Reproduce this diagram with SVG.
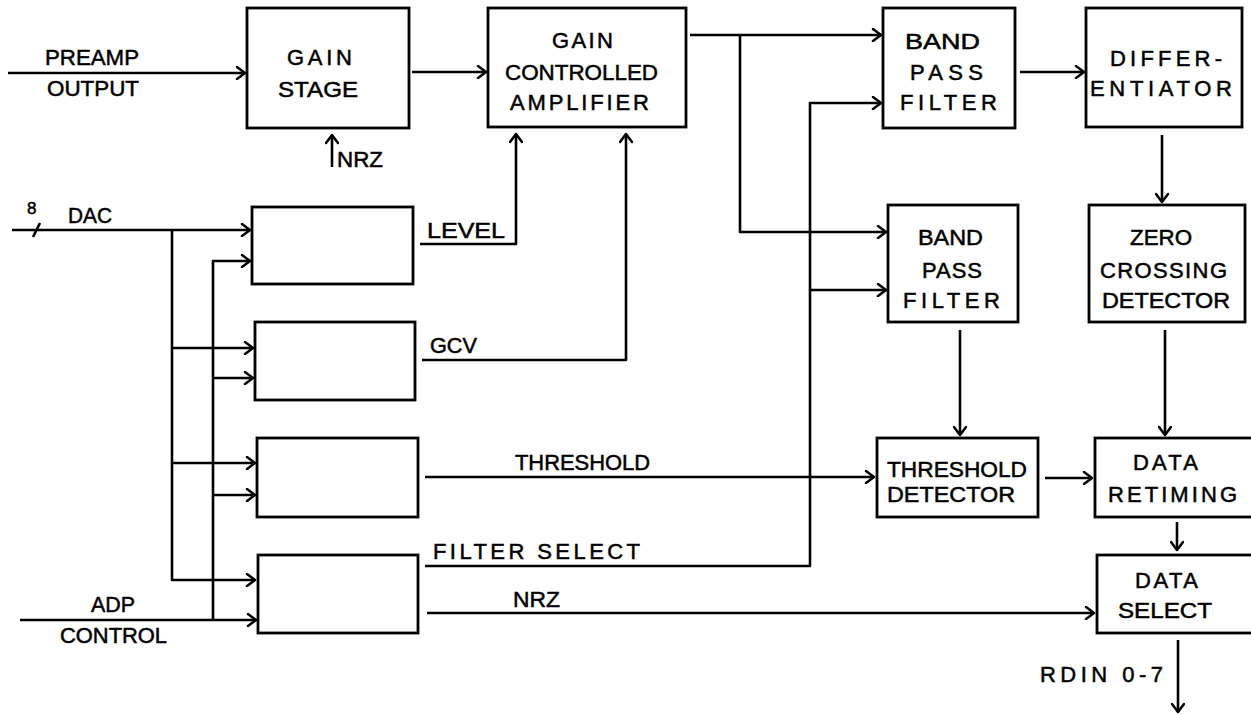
<svg xmlns="http://www.w3.org/2000/svg" width="1251" height="715" viewBox="0 0 1251 715">
<style>
.box{fill:#fff;stroke:#000;stroke-width:2.8}
.ln{fill:none;stroke:#000;stroke-width:2.6;stroke-linejoin:round}
.ar{marker-end:url(#arr)}
text{font-family:"Liberation Sans",Arial,sans-serif;font-size:22px;fill:#000;stroke:#000;stroke-width:0.5}
.sm{font-size:17px}
</style>
<defs>
<marker id="arr" markerUnits="userSpaceOnUse" markerWidth="12" markerHeight="14" refX="10" refY="7" orient="auto">
<path d="M2,1 L10,7 L2,13" fill="none" stroke="#000" stroke-width="2.5" stroke-linejoin="round" stroke-linecap="round"/>
</marker>
</defs>
<rect width="1251" height="715" fill="#fff" stroke="none"/>

<g id="connectors">
<path class="ln ar" d="M8,73 H245"/>
<path class="ln ar" d="M412,72 H486"/>
<path class="ln ar" d="M332,167 V135"/>
<path class="ln ar" d="M12,230 H250"/>
<path class="ln" d="M33,237 L40,223"/>
<path class="ln ar" d="M172,230 V580 H255"/>
<path class="ln ar" d="M172,348 H253"/>
<path class="ln ar" d="M172,463 H255"/>
<path class="ln ar" d="M20,620 H256"/>
<path class="ln ar" d="M213,620 V261 H250"/>
<path class="ln ar" d="M213,378 H253"/>
<path class="ln ar" d="M213,495 H255"/>
<path class="ln ar" d="M420,244 H516 V134"/>
<path class="ln ar" d="M422,360 H626 V134"/>
<path class="ln ar" d="M690,35 H881"/>
<path class="ln ar" d="M740,35 V232 H886"/>
<path class="ln ar" d="M425,566 H810 V103 H881"/>
<path class="ln ar" d="M810,290 H886"/>
<path class="ln ar" d="M1020,72 H1084"/>
<path class="ln ar" d="M1162,135 V202"/>
<path class="ln ar" d="M960,330 V435"/>
<path class="ln ar" d="M1165,330 V435"/>
<path class="ln ar" d="M425,477 H874"/>
<path class="ln ar" d="M1045,478 H1092"/>
<path class="ln ar" d="M1177,522 V550"/>
<path class="ln ar" d="M427,613 H1094"/>
<path class="ln ar" d="M1178,640 V712"/>
</g>

<g id="labels">
<text x="45" y="65" textLength="94" lengthAdjust="spacingAndGlyphs">PREAMP</text>
<text x="47" y="96" textLength="92" lengthAdjust="spacingAndGlyphs">OUTPUT</text>
<text x="337" y="167" textLength="46" lengthAdjust="spacingAndGlyphs">NRZ</text>
<text class="sm" x="27" y="214">8</text>
<text x="68" y="223" textLength="44" lengthAdjust="spacingAndGlyphs">DAC</text>
<text x="427" y="238" textLength="78" lengthAdjust="spacingAndGlyphs">LEVEL</text>
<text x="430" y="353" textLength="47" lengthAdjust="spacingAndGlyphs">GCV</text>
<text x="515" y="470" textLength="135" lengthAdjust="spacingAndGlyphs">THRESHOLD</text>
<text x="433" y="559" textLength="207" lengthAdjust="spacing">FILTER SELECT</text>
<text x="513" y="607" textLength="47" lengthAdjust="spacingAndGlyphs">NRZ</text>
<text x="91" y="612" textLength="44" lengthAdjust="spacingAndGlyphs">ADP</text>
<text x="60" y="643" textLength="107" lengthAdjust="spacingAndGlyphs">CONTROL</text>
<text x="1040" y="682" textLength="123" lengthAdjust="spacing">RDIN 0-7</text>
</g>

<g id="gain-stage">
<rect class="box" x="247" y="8" width="162" height="120"/>
<text x="287" y="65" textLength="65" lengthAdjust="spacing">GAIN</text>
<text x="278" y="97" textLength="80" lengthAdjust="spacingAndGlyphs">STAGE</text>
</g>
<g id="gain-controlled-amplifier">
<rect class="box" x="488" y="8" width="198" height="119"/>
<text x="552" y="48" textLength="61" lengthAdjust="spacing">GAIN</text>
<text x="505" y="80" textLength="153" lengthAdjust="spacingAndGlyphs">CONTROLLED</text>
<text x="510" y="110" textLength="139" lengthAdjust="spacing">AMPLIFIER</text>
</g>
<g id="band-pass-filter-1">
<rect class="box" x="883" y="8" width="132" height="120"/>
<text x="905" y="49" textLength="75" lengthAdjust="spacingAndGlyphs">BAND</text>
<text x="910" y="80" textLength="73" lengthAdjust="spacing">PASS</text>
<text x="900" y="110" textLength="97" lengthAdjust="spacing">FILTER</text>
</g>
<g id="differentiator">
<rect class="box" x="1086" y="8" width="156" height="119"/>
<text x="1110" y="66" textLength="112" lengthAdjust="spacing">DIFFER-</text>
<text x="1090" y="96" textLength="142" lengthAdjust="spacing">ENTIATOR</text>
</g>
<g id="level-block">
<rect class="box" x="252" y="207" width="161" height="77"/>
</g>
<g id="gcv-block">
<rect class="box" x="255" y="322" width="160" height="78"/>
</g>
<g id="threshold-block">
<rect class="box" x="257" y="438" width="161" height="79"/>
</g>
<g id="filter-select-block">
<rect class="box" x="258" y="555" width="160" height="78"/>
</g>
<g id="band-pass-filter-2">
<rect class="box" x="888" y="205" width="130" height="117"/>
<text x="918" y="245" textLength="65" lengthAdjust="spacingAndGlyphs">BAND</text>
<text x="922" y="278" textLength="60" lengthAdjust="spacing">PASS</text>
<text x="903" y="308" textLength="97" lengthAdjust="spacing">FILTER</text>
</g>
<g id="zero-crossing-detector">
<rect class="box" x="1089" y="205" width="156" height="117"/>
<text x="1130" y="245" textLength="62" lengthAdjust="spacingAndGlyphs">ZERO</text>
<text x="1100" y="278" textLength="127" lengthAdjust="spacing">CROSSING</text>
<text x="1102" y="308" textLength="128" lengthAdjust="spacingAndGlyphs">DETECTOR</text>
</g>
<g id="threshold-detector">
<rect class="box" x="877" y="438" width="161" height="79"/>
<text x="887" y="477" textLength="140" lengthAdjust="spacingAndGlyphs">THRESHOLD</text>
<text x="887" y="502" textLength="128" lengthAdjust="spacingAndGlyphs">DETECTOR</text>
</g>
<g id="data-retiming">
<rect class="box" x="1095" y="438" width="170" height="79"/>
<text x="1133" y="470" textLength="65" lengthAdjust="spacing">DATA</text>
<text x="1108" y="502" textLength="129" lengthAdjust="spacing">RETIMING</text>
</g>
<g id="data-select">
<rect class="box" x="1097" y="555" width="170" height="78"/>
<text x="1135" y="588" textLength="63" lengthAdjust="spacing">DATA</text>
<text x="1118" y="618" textLength="94" lengthAdjust="spacingAndGlyphs">SELECT</text>
</g>
</svg>
